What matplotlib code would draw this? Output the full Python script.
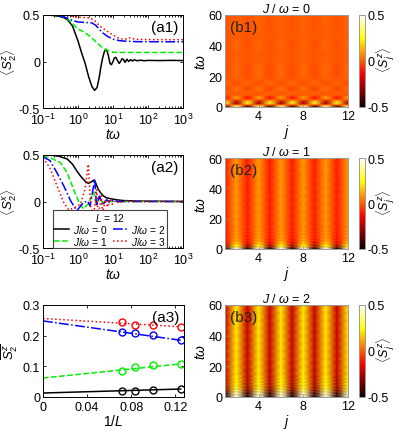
import numpy as np
import matplotlib
matplotlib.use("Agg")
import matplotlib.pyplot as plt

plt.rcParams['font.family'] = ['Liberation Sans', 'DejaVu Sans']
plt.rcParams['mathtext.fontset'] = 'custom'
plt.rcParams['mathtext.rm'] = 'Liberation Sans'
plt.rcParams['mathtext.it'] = 'Liberation Sans:italic'
plt.rcParams['mathtext.bf'] = 'Liberation Sans:bold'
plt.rcParams['axes.unicode_minus'] = False

# ---------------- data: (a1) <S_2^z>(t) ----------------
a1_t_black = [0.1, 0.2, 0.3, 0.4, 0.5, 0.7, 1.0, 1.3, 1.6, 2.0, 2.5, 3.0, 3.5, 4.0, 4.5, 5.0,
              5.7, 6.5, 7.3, 8.2, 9.0, 10, 11, 12, 13.5, 15, 16.5, 18, 20, 22, 25, 28, 32,
              36, 40, 50, 60, 80, 100, 200, 500, 1000]
a1_v_black = [0.5, 0.495, 0.485, 0.47, 0.45, 0.38, 0.22, 0.08, -0.02, -0.16, -0.27, -0.31,
              -0.28, -0.18, -0.06, 0.03, 0.11, 0.13, 0.07, -0.02, -0.035, 0.0, 0.04, 0.045,
              0.01, -0.02, 0.0, 0.03, 0.02, -0.01, 0.025, 0.0, 0.02, 0.005, 0.018, 0.008,
              0.014, 0.008, 0.012, 0.01, 0.012, 0.01]
a1_t_green = [0.1, 0.3, 0.5, 0.7, 0.92, 1.2, 1.44, 1.8, 2.2, 2.8, 3.4, 4.0, 4.6, 5.5, 6.6,
              8.0, 10.3, 15, 30, 100, 1000]
a1_v_green = [0.5, 0.495, 0.46, 0.41, 0.36, 0.335, 0.32, 0.295, 0.27, 0.235, 0.205, 0.18,
              0.16, 0.14, 0.125, 0.11, 0.1, 0.097, 0.097, 0.097, 0.097]
a1_t_blue = [0.1, 0.3, 0.5, 0.7, 1.0, 1.5, 2.5, 3.2, 4.0, 5.0, 7.0, 10, 15, 20, 50, 1000]
a1_v_blue = [0.5, 0.495, 0.465, 0.44, 0.425, 0.42, 0.415, 0.39, 0.35, 0.31, 0.27, 0.24,
             0.225, 0.22, 0.213, 0.212]
a1_t_red = [0.1, 0.3, 0.5, 0.7, 1.0, 1.6, 2.2, 3.0, 4.1, 5.5, 7.5, 10, 12.7, 19, 25, 29,
            35, 50, 100, 1000]
a1_v_red = [0.5, 0.5, 0.495, 0.485, 0.478, 0.472, 0.468, 0.44, 0.385, 0.35, 0.314, 0.285,
            0.26, 0.24, 0.242, 0.255, 0.245, 0.238, 0.236, 0.235]

# ---------------- data: (a2) <S_2^x>(t) ----------------
a2_t_black = [0.1, 0.2, 0.3, 0.5, 0.7, 0.92, 1.2, 1.58, 1.97, 2.4, 2.8, 3.2, 3.8, 4.5,
              5.3, 6.5, 8.5, 10, 15, 20, 50, 1000]
a2_v_black = [0.5, 0.495, 0.485, 0.455, 0.4, 0.33, 0.27, 0.22, 0.195, 0.21, 0.23, 0.2,
              0.13, 0.09, 0.06, 0.04, 0.03, 0.025, 0.015, 0.01, 0.005, 0.0]
a2_t_green = [0.1, 0.158, 0.31, 0.49, 0.75, 1.07, 1.44, 2.0, 2.8, 3.4, 4.1, 5.0, 6.5,
              10, 20, 1000]
a2_v_green = [0.49, 0.47, 0.42, 0.31, 0.13, -0.01, -0.08, -0.02, 0.1, -0.03, 0.04, -0.01,
              0.01, 0.0, 0.0, 0.0]
a2_t_blue = [0.1, 0.158, 0.25, 0.39, 0.61, 0.92, 1.44, 1.9, 2.2, 2.6, 3.0, 3.4, 4.1, 5.0,
             6.6, 8.0, 10, 15, 30, 1000]
a2_v_blue = [0.48, 0.44, 0.31, 0.17, 0.01, -0.1, -0.01, 0.005, -0.05, 0.1, 0.24, -0.05,
             0.06, -0.04, 0.02, -0.01, 0.01, 0.0, 0.0, 0.0]
a2_t_red = [0.1, 0.158, 0.25, 0.39, 0.54, 0.75, 1.18, 1.58, 1.97, 2.3, 2.8, 3.4, 3.8,
            4.6, 5.1, 6.0, 7.0, 8.3, 9.5, 12, 15, 20, 40, 1000]
a2_v_red = [0.47, 0.36, 0.17, -0.01, -0.09, -0.07, -0.03, 0.13, 0.4, -0.05, -0.15, 0.13,
            -0.17, 0.06, -0.12, 0.02, -0.06, 0.03, -0.03, 0.01, -0.02, 0.005, 0.0, 0.0]

# ---------------- data: (a3) time-averaged S_2^z vs 1/L ----------------
inv_L = [1 / 14, 1 / 12, 1 / 10, 1 / 8]
a3_black = [0.0185, 0.0185, 0.022, 0.026]
a3_green = [0.086, 0.099, 0.104, 0.108]
a3_blue = [0.212, 0.208, 0.202, 0.185]
a3_red = [0.244, 0.236, 0.235, 0.229]
fit_x = [0.0, 0.125]
fit_black = [0.013, 0.026]
fit_green = [0.062, 0.108]
fit_blue = [0.248, 0.185]
fit_red = [0.256, 0.229]

# ---------------- data: (b) <S_j^z>(t) heat maps ----------------
sites = list(range(1, 13))
t_b = [0, 1, 2, 3, 4, 5, 6, 7, 8, 10, 12, 15, 20, 25, 30, 35, 40, 45, 50, 55, 60]
b1_even = [0.5, 0.22, -0.16, -0.31, -0.18, 0.03, 0.12, 0.09, -0.01, 0.0, 0.05, -0.02,
           0.02, 0.025, 0.01, 0.005, 0.02, 0.005, 0.01, 0.015, 0.01]
b1_odd = [-0.5, -0.22, 0.16, 0.31, 0.18, -0.03, -0.12, -0.09, 0.01, 0.0, -0.05, 0.02,
          -0.02, -0.025, -0.01, -0.005, -0.02, -0.005, -0.01, -0.015, -0.01]
b2_even = [0.5, 0.38, 0.28, 0.22, 0.18, 0.15, 0.125, 0.115, 0.108, 0.1, 0.098, 0.097,
           0.097, 0.097, 0.097, 0.097, 0.097, 0.097, 0.097, 0.097, 0.097]
b2_odd = [-0.5, -0.38, -0.28, -0.22, -0.18, -0.15, -0.125, -0.115, -0.108, -0.1, -0.098,
          -0.097, -0.097, -0.097, -0.097, -0.097, -0.097, -0.097, -0.097, -0.097, -0.097]
b3_even = [0.5, 0.425, 0.42, 0.4, 0.35, 0.31, 0.29, 0.27, 0.26, 0.24, 0.235, 0.225, 0.22,
           0.215, 0.215, 0.215, 0.215, 0.215, 0.215, 0.215, 0.215]
b3_odd = [-0.5, -0.425, -0.42, -0.4, -0.35, -0.31, -0.29, -0.27, -0.26, -0.24, -0.235,
          -0.225, -0.22, -0.215, -0.215, -0.215, -0.215, -0.215, -0.215, -0.215, -0.215]
b_titles = [r'$J$ / $\omega$ = 0', r'$J$ / $\omega$ = 1', r'$J$ / $\omega$ = 2']

legend_labels = [r'$J/\omega$ = 0', r'$J/\omega$ = 1', r'$J/\omega$ = 2', r'$J/\omega$ = 3']

# ---------------- figure ----------------
W, H = 399, 431
fig = plt.figure(figsize=(W / 100, H / 100), dpi=100)


def rect(x0, y0, x1, y1):
    return [x0 / W, 1 - y1 / H, (x1 - x0) / W, (y1 - y0) / H]


FS = 9
LFS = 10
PFS = 11
col = {'k': 'black', 'g': '#00ee00', 'b': 'blue', 'r': 'red'}
sty = {'k': '-', 'g': '--', 'b': '-.', 'r': ':'}
LW = 1.1


def style_ax(ax):
    ax.tick_params(direction='in', which='both', top=True, right=True, labelsize=FS,
                   length=2.5, width=0.6, pad=2)
    ax.tick_params(axis='x', which='both', pad=3)
    ax.tick_params(which='minor', length=1.5)
    for s in ax.spines.values():
        s.set_linewidth(0.7)


def place_ylabel(ax, text, x_right_px, width_px):
    ax.set_ylabel(text, fontsize=9.5)
    ax.yaxis.set_label_coords((x_right_px - 43) / width_px, 0.5)


# (a1)
ax1 = fig.add_axes(rect(43, 16, 183, 109))
for c, tt, vv in [('k', a1_t_black, a1_v_black), ('g', a1_t_green, a1_v_green),
                  ('b', a1_t_blue, a1_v_blue), ('r', a1_t_red, a1_v_red)]:
    ax1.plot(tt, vv, color=col[c], ls=sty[c], lw=LW)
ax1.set_xscale('log')
ax1.set_xlim(0.1, 1000)
ax1.set_ylim(-0.5, 0.5)
ax1.set_yticks([-0.5, 0, 0.5])
ax1.set_yticklabels(['-0.5', '0', '0.5'])
ax1.set_xticks([0.1, 1, 10, 100, 1000])
style_ax(ax1)
ax1.set_xlabel(r'$t\omega$', fontsize=LFS, labelpad=0)
place_ylabel(ax1, r'$\langle S_2^z\rangle$', 19, 140)
ax1.text(0.97, 0.95, '(a1)', transform=ax1.transAxes, ha='right', va='top', fontsize=PFS)

# (a2)
ax2 = fig.add_axes(rect(43, 156, 183, 249))
handles = []
for c, tt, vv, lab in [('k', a2_t_black, a2_v_black, legend_labels[0]),
                       ('g', a2_t_green, a2_v_green, legend_labels[1]),
                       ('b', a2_t_blue, a2_v_blue, legend_labels[2]),
                       ('r', a2_t_red, a2_v_red, legend_labels[3])]:
    h, = ax2.plot(tt, vv, color=col[c], ls=sty[c], lw=LW, label=lab)
    handles.append(h)
ax2.set_xscale('log')
ax2.set_xlim(0.1, 1000)
ax2.set_ylim(-0.5, 0.5)
ax2.set_yticks([-0.5, 0, 0.5])
ax2.set_yticklabels(['-0.5', '0', '0.5'])
ax2.set_xticks([0.1, 1, 10, 100, 1000])
style_ax(ax2)
ax2.set_xlabel(r'$t\omega$', fontsize=LFS, labelpad=0)
place_ylabel(ax2, r'$\langle S_2^x\rangle$', 19, 140)
ax2.text(0.97, 0.95, '(a2)', transform=ax2.transAxes, ha='right', va='top', fontsize=PFS)
leg = ax2.legend(handles=handles, ncol=2, title=r'$L$ = 12', fontsize=7.3,
                 title_fontsize=7.3, loc='lower left', bbox_to_anchor=(10 / 140, 0.0),
                 frameon=True, fancybox=False, handlelength=1.5,
                 handletextpad=0.35, columnspacing=0.5, borderpad=0.12, labelspacing=0.0,
                 borderaxespad=0.0)
leg.get_frame().set_edgecolor('#444444')
leg.get_frame().set_linewidth(0.8)
leg.get_frame().set_alpha(1)

# (a3)
ax3 = fig.add_axes(rect(43, 306, 184, 398))
for c, yy, ff in [('k', a3_black, fit_black), ('g', a3_green, fit_green),
                  ('b', a3_blue, fit_blue), ('r', a3_red, fit_red)]:
    ax3.plot(fit_x, ff, color=col[c], ls=sty[c], lw=LW)
    ax3.plot(inv_L, yy, ls='none', marker='o', mfc='none', mec=col[c], ms=5, mew=1)
ax3.set_xlim(0, 0.128)
ax3.set_ylim(0, 0.3)
ax3.set_xticks([0, 0.04, 0.08, 0.12])
ax3.set_xticklabels(['0', '0.04', '0.08', '0.12'])
ax3.set_yticks([0, 0.1, 0.2, 0.3])
ax3.set_yticklabels(['0', '0.1', '0.2', '0.3'])
style_ax(ax3)
ax3.set_xlabel(r'1/$L$', fontsize=LFS, labelpad=0)
place_ylabel(ax3, r'$\overline{S_2^z}$', 19, 141)
ax3.text(0.97, 0.95, '(a3)', transform=ax3.transAxes, ha='right', va='top', fontsize=PFS)

# (b) heat maps
b_rows = [(16, 108), (159, 250), (306, 398)]
b_data = [(b1_even, b1_odd), (b2_even, b2_odd), (b3_even, b3_odd)]
for i in range(3):
    y0, y1 = b_rows[i]
    ax = fig.add_axes(rect(225, y0, 348, y1))
    ev, od = b_data[i]
    C = np.array([[ev[k] if (j % 2 == 0) else od[k] for j in sites] for k in range(len(t_b))])
    im = ax.pcolormesh(sites, t_b, C, shading='gouraud', cmap='hot', vmin=-0.5, vmax=0.5,
                       rasterized=True)
    ax.set_xlim(1, 12)
    ax.set_ylim(0, 60)
    ax.set_xticks([4, 8, 12])
    ax.set_yticks([0, 20, 40, 60])
    ax.tick_params(direction='in', labelsize=FS, length=2, width=0.5, pad=2,
                   color='#888888')
    for s in ax.spines.values():
        s.set_color('#999999')
        s.set_linewidth(0.7)
    ax.set_xlabel(r'$j$', fontsize=LFS, labelpad=0)
    ax.set_ylabel(r'$t\omega$', fontsize=LFS, labelpad=0)
    ax.set_title(b_titles[i], fontsize=FS, pad=2)
    ax.text(0.04, 0.95, '(b%d)' % (i + 1), transform=ax.transAxes, ha='left', va='top',
            fontsize=PFS, color='#222222')
    cax = fig.add_axes(rect(359, y0, 365, y1))
    cb = fig.colorbar(im, cax=cax, ticks=[-0.5, 0, 0.5])
    cb.ax.set_yticklabels(['-0.5', '0', '0.5'])
    cb.ax.tick_params(labelsize=FS, length=0, pad=2)
    cb.outline.set_edgecolor('#999999')
    cb.outline.set_linewidth(0.7)
    fig.text(386 / W, 1 - (y0 + y1) / 2 / H + 0.005, r'$\langle S_j^z\rangle$', rotation=90,
             ha='center', va='center', fontsize=9)

fig.savefig('out.png', dpi=100)
